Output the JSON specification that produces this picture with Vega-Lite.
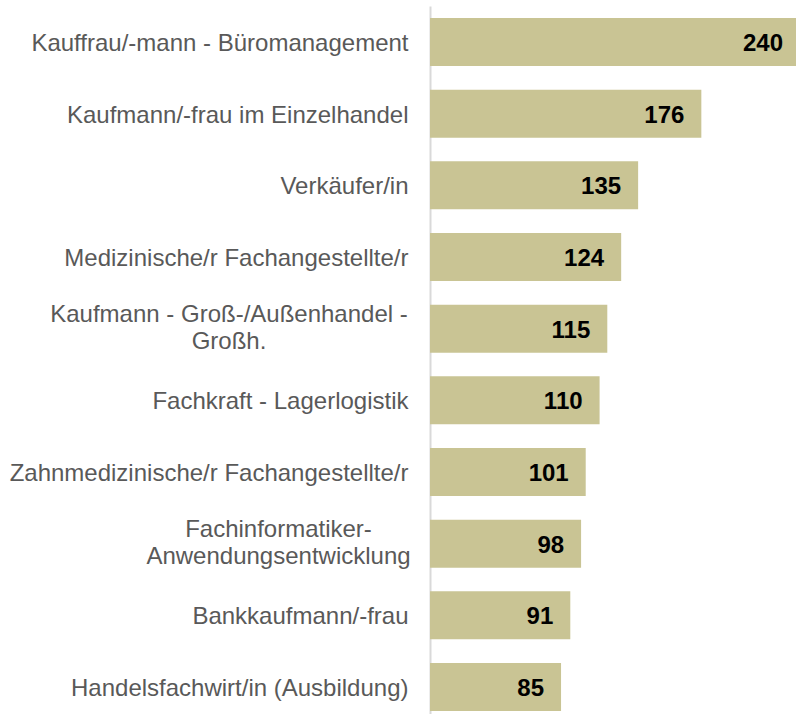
{
  "$schema": "https://vega.github.io/schema/vega-lite/v6.json",
  "width": 366,
  "height": 708,
  "autosize": {"type": "none"},
  "padding": {"left": 430, "top": 6, "right": 0, "bottom": 0},
  "background": "white",
  "config": {"view": {"stroke": null}},
  "data": {
    "values": [
      {"beruf": "Kauffrau/-mann - Büromanagement", "anzahl": 240},
      {"beruf": "Kaufmann/-frau im Einzelhandel", "anzahl": 176},
      {"beruf": "Verkäufer/in", "anzahl": 135},
      {"beruf": "Medizinische/r Fachangestellte/r", "anzahl": 124},
      {"beruf": "Kaufmann - Groß-/Außenhandel -|Großh.", "anzahl": 115},
      {"beruf": "Fachkraft - Lagerlogistik", "anzahl": 110},
      {"beruf": "Zahnmedizinische/r Fachangestellte/r", "anzahl": 101},
      {"beruf": "Fachinformatiker-|Anwendungsentwicklung", "anzahl": 98},
      {"beruf": "Bankkaufmann/-frau", "anzahl": 91},
      {"beruf": "Handelsfachwirt/in (Ausbildung)", "anzahl": 85}
    ]
  },
  "encoding": {
    "y": {
      "field": "beruf",
      "type": "nominal",
      "sort": null,
      "scale": {"paddingInner": 0.33, "paddingOuter": 0.1045, "align": 0.8},
      "axis": {
        "title": null,
        "ticks": false,
        "domain": true,
        "domainColor": "#d9d9d9",
        "domainWidth": 2,
        "labelPadding": {"expr": "indexof(datum.value, 'Großh') >= 0 ? 201.5 : (indexof(datum.value, '|') >= 0 ? 152 : 22)"},
        "labelOffset": {"expr": "indexof(datum.value, '|') >= 0 ? -13.5 : 2"},
        "labelFont": "Liberation Sans",
        "labelFontSize": 24,
        "labelColor": "#595959",
        "labelLimit": 500,
        "labelLineHeight": 27,
        "labelAlign": {"condition": {"test": "indexof(datum.value, '|') >= 0", "value": "center"}, "value": "right"},
        "labelExpr": "split(datum.value, '|')"
      }
    },
    "x": {
      "field": "anzahl",
      "type": "quantitative",
      "scale": {"domain": [0, 237.4], "nice": false, "zero": true},
      "axis": null
    }
  },
  "layer": [
    {"mark": {"type": "bar", "color": "#C9C494", "clip": true}},
    {
      "mark": {
        "type": "text",
        "align": "right",
        "baseline": "middle",
        "dx": -17,
        "dy": 2,
        "font": "Liberation Sans",
        "fontSize": 24,
        "fontWeight": "bold",
        "color": "#000000"
      },
      "encoding": {"text": {"field": "anzahl", "type": "quantitative"}}
    }
  ]
}
